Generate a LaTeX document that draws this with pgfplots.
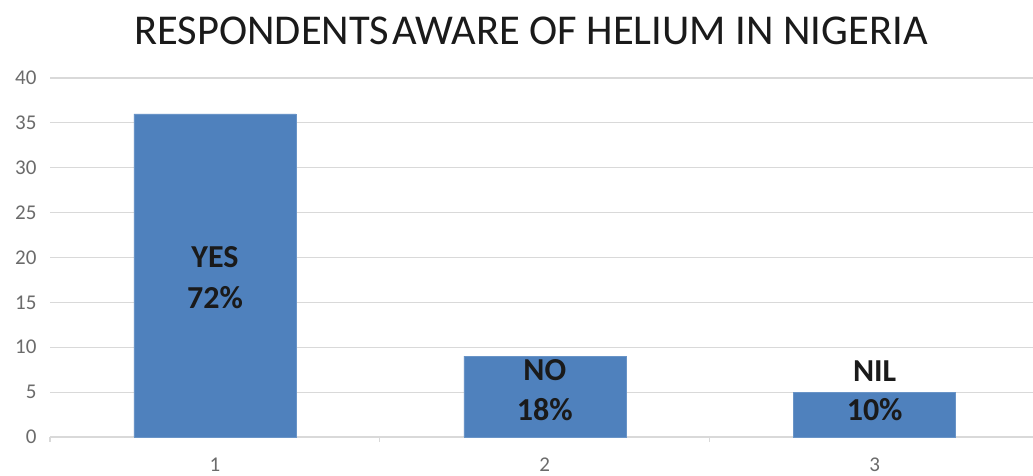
\documentclass[border=0pt]{standalone}
\usepackage{pgfplots}
\pgfplotsset{compat=1.18}
\usepackage{fontspec}
\setmainfont{Carlito}
\definecolor{barblue}{HTML}{4F81BD}
\definecolor{gridgray}{HTML}{D9D9D9}
\definecolor{ticktext}{HTML}{6B6B6B}
\definecolor{labeltext}{HTML}{1A1A1A}

\begin{document}
\begin{tikzpicture}[x=1pt,y=1pt]
\useasboundingbox (0,0) rectangle (1033,476);
% chart title
\node[font=\fontsize{42.5}{42.5}\selectfont, text=labeltext] at (531,445)
  {RESPONDENTS\hspace{0.08em}AWARE OF HELIUM IN NIGERIA};
\begin{axis}[
  at={(50pt,39pt)}, anchor=south west,
  scale only axis, width=983pt, height=359pt,
  xmin=0.5, xmax=3.48, ymin=0, ymax=40,
  ytick={0,5,...,40}, xtick={1,2,3},
  axis x line*=bottom, axis y line*=left,
  ymajorgrids, grid style={gridgray, line width=1.2pt},
  axis line style={draw=none, -},
  major tick length=0pt,
  extra x ticks={0.5,1.5,2.5}, extra x tick labels={},
  extra x tick style={grid=none, tick align=outside, major tick length=5pt,
    tick style={gridgray, line width=1.2pt}},
  /pgf/number format/assume math mode=true,
  tick label style={text=ticktext, font=\fontsize{21}{21}\selectfont},
  yticklabel style={xshift=-10pt},
  xticklabel style={yshift=-17pt},
  clip=false,
]
\addplot[ybar, bar width=162pt, fill=barblue, draw=barblue!85!white, line width=0.6pt]
  coordinates {(1,36) (2,9) (3,5)};
\node[font=\bfseries\fontsize{32}{32}\selectfont, text=labeltext] at (axis cs:1,20.0) {YES};
\node[font=\bfseries\fontsize{32}{32}\selectfont, text=labeltext] at (axis cs:1,15.5) {72\%};
\node[font=\bfseries\fontsize{32}{32}\selectfont, text=labeltext] at (axis cs:2,7.5) {NO};
\node[font=\bfseries\fontsize{32}{32}\selectfont, text=labeltext] at (axis cs:2,3.0) {18\%};
\node[font=\bfseries\fontsize{32}{32}\selectfont, text=labeltext] at (axis cs:3,7.3) {NIL};
\node[font=\bfseries\fontsize{32}{32}\selectfont, text=labeltext] at (axis cs:3,3.0) {10\%};
\end{axis}
\end{tikzpicture}
\end{document}
